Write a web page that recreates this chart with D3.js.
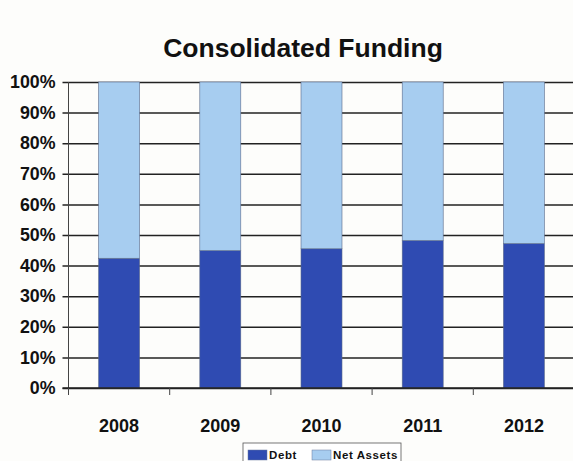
<!DOCTYPE html>
<html>
<head>
<meta charset="utf-8">
<script src="https://cdn.jsdelivr.net/npm/d3@7"></script>
<style>
  html, body { margin: 0; padding: 0; background: #fdfdfb; }
  svg { display: block; }
  text { font-family: "Liberation Sans", Arial, sans-serif; }
</style>
</head>
<body>
<svg id="chart" width="573" height="461"></svg>
<script>
// Funding mix by year, shares of total (percent)
const years = ["2008", "2009", "2010", "2011", "2012"];
const debt = [42.4, 44.9, 45.5, 48.2, 47.2];
const netAssets = [57.6, 55.1, 54.5, 51.8, 52.8];
const seriesNames = ["Debt", "Net Assets"];
const seriesColors = ["#2f4bb2", "#a7cdf0"];
const yTicks = [0, 10, 20, 30, 40, 50, 60, 70, 80, 90, 100];

const svg = d3.select("#chart");
const margin = { top: 82, left: 68.5, bottom: 73 };
const plotW = 506;
const plotH = 461 - margin.top - margin.bottom;

const x = d3.scaleBand().domain(years).range([margin.left, margin.left + plotW]).paddingInner(0.595).paddingOuter(0.2975);
const y = d3.scaleLinear().domain([0, 100]).range([margin.top + plotH, margin.top]);

// Title
svg.append("text")
  .attr("x", 303).attr("y", 57)
  .attr("text-anchor", "middle")
  .attr("font-size", 26.5).attr("font-weight", "bold").attr("fill", "#111")
  .text("Consolidated Funding");

// Horizontal gridlines with short ticks to the left
const yAxis = d3.axisLeft(y).tickValues(yTicks).tickFormat(d => d + "%").tickSize(-plotW - 6).tickPadding(10);
const gy = svg.append("g").attr("transform", `translate(${margin.left - 6},0)`).call(yAxis);
gy.select(".domain").remove();
gy.selectAll(".tick line").attr("stroke", "#222").attr("stroke-width", 1.5);
gy.selectAll(".tick text")
  .attr("x", -7)
  .attr("font-size", 17.8).attr("font-weight", "bold").attr("fill", "#111")
  .attr("font-family", "'Liberation Sans', Arial, sans-serif");

// Vertical axis line
svg.append("line")
  .attr("x1", margin.left).attr("x2", margin.left)
  .attr("y1", y(100)).attr("y2", y(0))
  .attr("stroke", "#444").attr("stroke-width", 1);

// Stacked bars
const rows = years.map((yr, i) => ({ year: yr, Debt: debt[i], "Net Assets": netAssets[i] }));
const stacked = d3.stack().keys(seriesNames)(rows);
svg.append("g").selectAll("g").data(stacked).join("g")
  .attr("fill", (d, i) => seriesColors[i])
  .selectAll("rect").data(d => d).join("rect")
    .attr("x", d => x(d.data.year))
    .attr("width", x.bandwidth())
    .attr("y", d => y(d[1]))
    .attr("height", d => y(d[0]) - y(d[1]))
    .attr("stroke", "#5a6a8a").attr("stroke-width", 0.6);

// Category axis with ticks between categories
const gx = svg.append("g").attr("transform", `translate(0,${y(0)})`);
gx.append("line")
  .attr("x1", margin.left - 6).attr("x2", margin.left + plotW)
  .attr("stroke", "#222").attr("stroke-width", 1.5);
const step = x.step();
gx.selectAll("line.sep").data(d3.range(0, years.length)).join("line")
  .attr("class", "sep")
  .attr("x1", i => margin.left + i * step).attr("x2", i => margin.left + i * step)
  .attr("y1", 0).attr("y2", 7)
  .attr("stroke", "#444").attr("stroke-width", 1);
gx.selectAll("text").data(years).join("text")
  .attr("x", d => x(d) + x.bandwidth() / 2)
  .attr("y", 44)
  .attr("text-anchor", "middle")
  .attr("font-size", 18).attr("font-weight", "bold").attr("fill", "#111")
  .text(d => d);

// Legend
const lg = svg.append("g").attr("transform", "translate(243,443)");
lg.append("rect").attr("width", 158).attr("height", 24)
  .attr("fill", "#fff").attr("stroke", "#555").attr("stroke-width", 0.8);
const items = lg.selectAll("g.item").data(seriesNames).join("g")
  .attr("class", "item")
  .attr("transform", (d, i) => `translate(${[5, 69][i]},7)`);
items.append("rect").attr("width", 19).attr("height", 10)
  .attr("fill", (d, i) => seriesColors[i]).attr("stroke", "#6a7a9a").attr("stroke-width", 0.5);
items.append("text").attr("x", 21).attr("y", 9)
  .attr("font-size", 11.5).attr("font-weight", "bold").attr("fill", "#111")
  .attr("letter-spacing", 0.6)
  .text(d => d);
</script>
</body>
</html>
